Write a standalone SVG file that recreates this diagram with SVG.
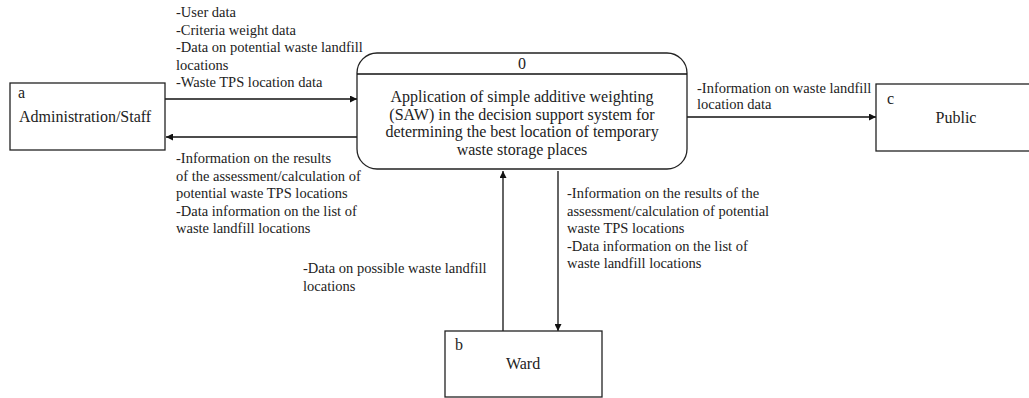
<svg xmlns="http://www.w3.org/2000/svg" width="1029" height="398" viewBox="0 0 1029 398">
<style>
.box{fill:#fff;stroke:#222;stroke-width:1.3}
.line{stroke:#111;stroke-width:1.3;fill:none}
text{font-family:'Liberation Serif','Times New Roman','DejaVu Serif',serif;fill:#222}
.nt{font-size:16px}
.lb{font-size:14.5px}
</style>
<defs>
<marker id="arr" viewBox="0 0 10 10" refX="10" refY="5" markerWidth="8" markerHeight="7" markerUnits="userSpaceOnUse" orient="auto">
<path d="M0,0 L10,5 L0,10 z" fill="#111"/>
</marker>
</defs>
<rect width="1029" height="398" fill="#fff"/>
<g id="connectors">
<line class="line" x1="165" y1="99" x2="357" y2="99" marker-end="url(#arr)"/>
<line class="line" x1="357" y1="137" x2="166" y2="137" marker-end="url(#arr)"/>
<line class="line" x1="687" y1="117" x2="876" y2="117" marker-end="url(#arr)"/>
<line class="line" x1="503" y1="331" x2="503" y2="171" marker-end="url(#arr)"/>
<line class="line" x1="558" y1="171" x2="558" y2="331" marker-end="url(#arr)"/>
<text class="lb" x="176" y="17">-User data</text>
<text class="lb" x="176" y="34.5">-Criteria weight data</text>
<text class="lb" x="176" y="52">-Data on potential waste landfill</text>
<text class="lb" x="176" y="69.5">locations</text>
<text class="lb" x="176" y="87">-Waste TPS location data</text>
<text class="lb" x="176" y="163">-Information on the results</text>
<text class="lb" x="176" y="180.5">of the assessment/calculation of</text>
<text class="lb" x="176" y="198">potential waste TPS locations</text>
<text class="lb" x="176" y="215.5">-Data information on the list of</text>
<text class="lb" x="176" y="233">waste landfill locations</text>
<text class="lb" x="697" y="93">-Information on waste landfill</text>
<text class="lb" x="697" y="109">location data</text>
<text class="lb" x="303" y="273">-Data on possible waste landfill</text>
<text class="lb" x="303" y="291">locations</text>
<text class="lb" x="567" y="198">-Information on the results of the</text>
<text class="lb" x="567" y="215.5">assessment/calculation of potential</text>
<text class="lb" x="567" y="233">waste TPS locations</text>
<text class="lb" x="567" y="250.5">-Data information on the list of</text>
<text class="lb" x="567" y="268">waste landfill locations</text>
</g>
<g id="node-a">
<rect class="box" x="10" y="83" width="155" height="67"/>
<text class="nt" x="18" y="98">a</text>
<text class="nt" x="19" y="122">Administration/Staff</text>
</g>
<g id="node-0">
<rect class="box" x="357" y="53" width="330" height="116" rx="20" ry="20"/>
<line class="line" x1="357" y1="74" x2="687" y2="74"/>
<text class="nt" x="522" y="69" text-anchor="middle">0</text>
<text class="nt" x="522" y="102" text-anchor="middle">Application of simple additive weighting</text>
<text class="nt" x="522" y="119.5" text-anchor="middle">(SAW) in the decision support system for</text>
<text class="nt" x="522" y="137" text-anchor="middle">determining the best location of temporary</text>
<text class="nt" x="522" y="154.5" text-anchor="middle">waste storage places</text>
</g>
<g id="node-c">
<rect class="box" x="876" y="84" width="160" height="67"/>
<text class="nt" x="887" y="104">c</text>
<text class="nt" x="956" y="123" text-anchor="middle">Public</text>
</g>
<g id="node-b">
<rect class="box" x="445" y="331" width="157" height="66"/>
<text class="nt" x="455" y="350">b</text>
<text class="nt" x="523" y="369" text-anchor="middle">Ward</text>
</g>
</svg>
